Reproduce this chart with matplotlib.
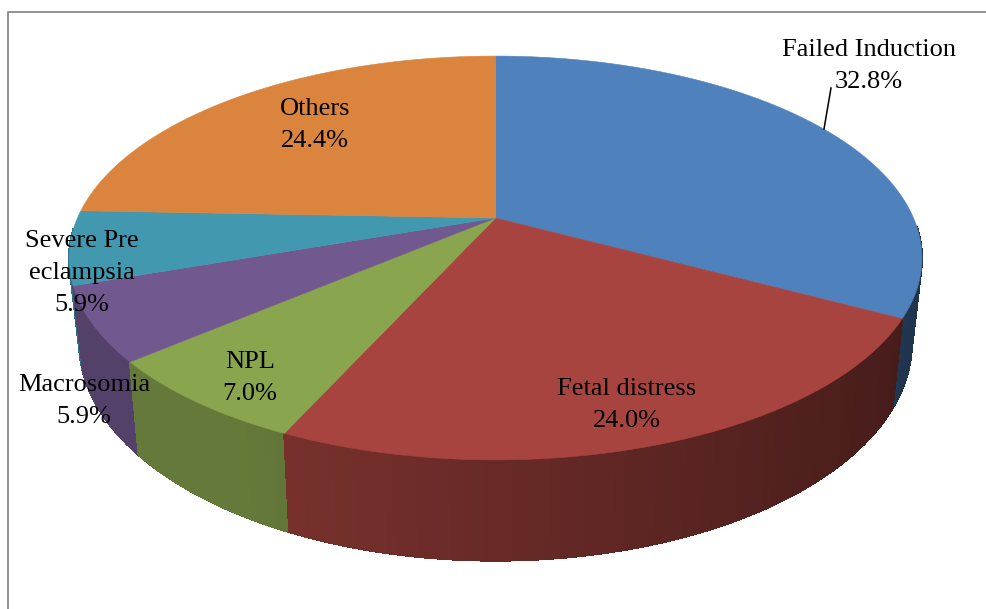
import numpy as np
import matplotlib
matplotlib.use('Agg')
import matplotlib.pyplot as plt

names = ['Failed Induction', 'Fetal distress', 'NPL', 'Macrosomia', 'Severe Pre\neclampsia', 'Others']
share = [32.8, 24.0, 7.0, 5.9, 5.9, 24.4]
colors = ['#4f81bd', '#a8443f', '#89a54e', '#71588f', '#4198af', '#db843d']
label_pos = [(869, 66), (627, 405), (250, 378), (84, 401), (82, 273), (315, 125)]

plt.rcParams['font.family'] = ['Liberation Serif', 'DejaVu Serif']


# flat circle -> screen, with a bit of perspective so the near edge is bigger
def project(t, cx, cy, rx, ry):
    X = np.sin(t)
    Y = -np.cos(t)
    w = 1 - 0.198 * Y
    return cx + rx * X / w, cy + ry * Y / w


def top(t):
    return project(t, 495.5, 218, 418, 194)


def bottom(t):
    return project(t, 495.5, 300, 408, 209)


def shade(c, t):
    k = min(0.74, 0.62 - 0.23 * np.sin(t))
    return tuple(v * k for v in matplotlib.colors.to_rgb(c))


fig = plt.figure(figsize=(9.87, 6.09), dpi=100)
ax = fig.add_axes([0, 0, 1, 1])
ax.set_xlim(0, 987)
ax.set_ylim(609, 0)
ax.axis('off')

ax.plot([8, 8, 987], [609, 12, 12], color='#8a8a8a', lw=1.3)

edges = np.cumsum([0] + share) / 100 * 2 * np.pi

# side wall, back to front
bands = []
for i in range(len(share)):
    steps = np.linspace(edges[i], edges[i + 1], max(int(share[i] * 3), 4))
    for a, b in zip(steps[:-1], steps[1:]):
        bands.append((a, b, colors[i]))
bands.sort(key=lambda s: -np.cos((s[0] + s[1]) / 2))
for a, b, c in bands:
    mid = (a + b) / 2
    if -np.cos(mid) < 0.05:   # back part is hidden by the top
        continue
    tt = np.linspace(a, b, 5)
    x1, y1 = top(tt)
    x2, y2 = bottom(tt)
    col = shade(c, mid)
    ax.fill(np.r_[x1, x2[::-1]], np.r_[y1, y2[::-1]], color=col, lw=0.8, antialiased=False, zorder=1)
    # smooth the lower rim, the fill above has no antialiasing
    ax.plot(x2, y2, color=col, lw=1.0, solid_capstyle='butt', zorder=1)

# top slices
for i in range(len(share)):
    tt = np.linspace(edges[i], edges[i + 1], 120)
    x, y = top(tt)
    ax.fill(np.r_[495.5, x], np.r_[218, y], color=colors[i], lw=0.4, zorder=2)

for i in range(len(share)):
    ax.text(label_pos[i][0], label_pos[i][1], '%s\n%.1f%%' % (names[i], share[i]),
            ha='center', va='center', fontsize=19, color='black', linespacing=1.58, zorder=4)

ax.plot([824, 831], [129, 88], color='black', lw=1.1, zorder=3)

fig.savefig('out.png', dpi=100)
